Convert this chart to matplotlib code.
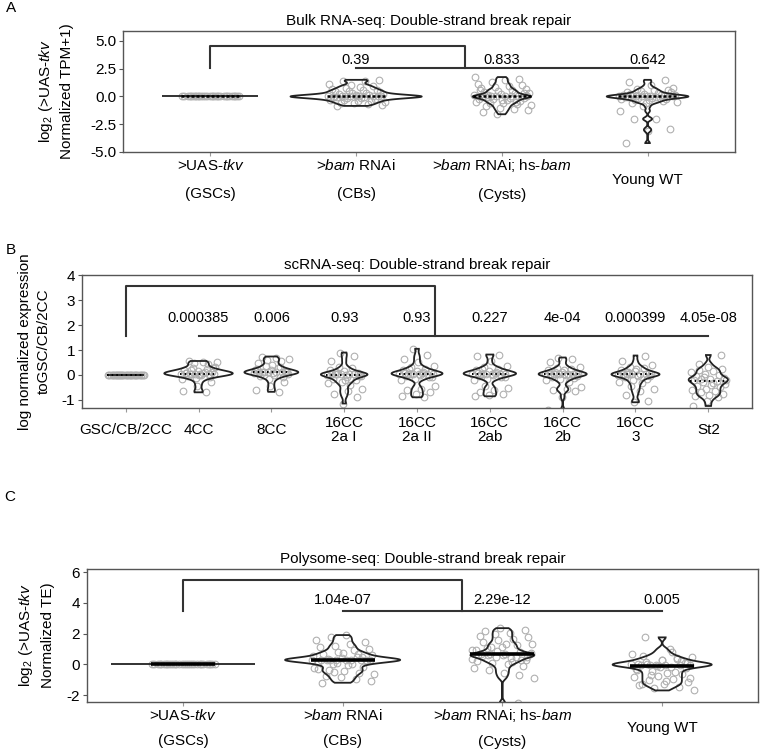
import numpy as np
import matplotlib.pyplot as plt

plt.rcParams['font.family'] = ['Liberation Sans', 'DejaVu Sans']
plt.rcParams['font.size'] = 11
plt.rcParams['mathtext.fontset'] = 'custom'
plt.rcParams['mathtext.rm'] = 'Liberation Sans'
plt.rcParams['mathtext.it'] = 'Liberation Sans:italic'
plt.rcParams['axes.unicode_minus'] = False

# ---- A: bulk RNA-seq (log2 normalised to >UAS-tkv) ----
bulk_labels = [r">UAS-$\mathit{tkv}$" + "\n(GSCs)",
               r">$\mathit{bam}$ RNAi" + "\n(CBs)",
               r">$\mathit{bam}$ RNAi; hs-$\mathit{bam}$" + "\n(Cysts)",
               "Young WT"]
bulk_gsc = [0.0, 0.0, 0.0, 0.0, 0.0, 0.0, 0.0, 0.0, 0.0, 0.0,
            0.0, 0.0, 0.0, 0.0, 0.0, 0.0, 0.0, 0.0, 0.0, 0.0,
            0.0, 0.0, 0.0, 0.0, 0.0, 0.0, 0.0, 0.0, 0.0, 0.0]
bulk_cb = [0.0, 0.0, 0.01, -0.01, 0.0, 0.0, 0.01, -0.01, 0.0, 0.0,
           0.1, -0.08, 0.15, -0.12, 0.2, -0.18, 0.25, -0.22, 0.3, -0.28, 0.35, -0.32,
           0.4, -0.38, 0.45, -0.42, 0.5, -0.48, 0.55, -0.55, 0.6, -0.62, 0.68, -0.7,
           0.75, -0.78, 0.82, -0.85, 0.9, 1.0, 1.1, 1.38, 1.42, 1.5, 0.05, -0.05]
bulk_cyst = [0.0, 0.0, 0.01, -0.01, 0.0, 0.0,
             0.1, -0.1, 0.15, -0.15, 0.2, -0.2, 0.28, -0.25, 0.35, -0.32, 0.42, -0.4,
             0.5, -0.48, 0.58, -0.55, 0.65, -0.62, 0.75, -0.7, 0.85, -0.8, 0.95, -0.9,
             1.05, -1.0, 1.15, -1.12, 1.3, -1.25, 1.45, -1.4, 1.6, -1.6, 1.75, 0.05,
             -0.05, 0.3, -0.3, 0.55, -0.5]
bulk_wt = [0.0, 0.0, 0.01, -0.01, 0.0, 0.0, 0.01, -0.01, 0.0, 0.0,
           0.06, -0.06, 0.1, -0.1, 0.15, -0.15, 0.2, -0.2, 0.25, -0.25, 0.3, -0.3,
           0.36, -0.36, 0.42, -0.42, 0.48, -0.48, 0.55, -0.55, 0.62, -0.6, 0.12, -0.12,
           0.7, 0.8, 1.0, 1.3, 1.5, -0.9, -1.3, -2.0, -2.05, -2.9, -3.1, -4.2]
bulk_p = ["0.39", "0.833", "0.642"]

# ---- B: scRNA-seq (log normalised to GSC/CB/2CC) ----
sc_labels = ["GSC/CB/2CC", "4CC", "8CC", "16CC\n2a I", "16CC\n2a II",
             "16CC\n2ab", "16CC\n2b", "16CC\n3", "St2"]
sc_gsc = [0.0, 0.0, 0.0, 0.0, 0.0, 0.0, 0.0, 0.0, 0.0, 0.0,
          0.0, 0.0, 0.0, 0.0, 0.0, 0.0, 0.0, 0.0, 0.0, 0.0,
          0.0, 0.0, 0.0, 0.0, 0.0, 0.0, 0.0, 0.0, 0.0, 0.0]
sc_4cc = [0.05, 0.05, 0.04, 0.06, 0.05, 0.05, 0.04, 0.06, 0.05,
          0.1, 0.14, 0.18, 0.22, 0.26, 0.3, 0.0, -0.04, -0.08, -0.12, -0.16, 0.12,
          0.2, 0.28, -0.02, 0.08, 0.42, 0.46, 0.5, 0.53, 0.56, -0.3, -0.45, -0.65, -0.7]
sc_8cc = [0.1, 0.1, 0.09, 0.11, 0.1, 0.1, 0.09, 0.11, 0.1,
          0.15, 0.2, 0.25, 0.3, 0.35, 0.05, 0.0, -0.05, -0.1, -0.15, 0.18, 0.28,
          -0.02, 0.12, 0.38, 0.48, 0.55, 0.6, 0.65, 0.7, 0.74, -0.3, -0.45, -0.6, -0.68]
sc_2a1 = [0.02, 0.02, 0.01, 0.03, 0.02, 0.02, 0.01, 0.03, 0.02,
          0.08, 0.14, 0.2, 0.26, 0.32, -0.04, -0.1, -0.16, -0.22, -0.28, -0.34, -0.4,
          0.1, -0.06, -0.2, 0.55, 0.75, 0.9, -0.55, -0.65, -0.75, -0.88, -1.15]
sc_2a2 = [0.05, 0.05, 0.04, 0.06, 0.05, 0.05, 0.04, 0.06, 0.05,
          0.1, 0.15, 0.2, 0.25, 0.3, 0.35, 0.0, -0.05, -0.1, -0.15, -0.2, 0.12, 0.22,
          -0.08, 0.5, 0.65, 0.8, 1.05, -0.45, -0.55, -0.62, -0.7, -0.78, -0.85, -0.9]
sc_2ab = [0.05, 0.05, 0.04, 0.06, 0.05, 0.05, 0.04, 0.06, 0.05,
          0.1, 0.15, 0.2, 0.25, 0.3, 0.35, 0.0, -0.05, -0.1, -0.15, -0.2, 0.12, 0.22,
          -0.08, 0.55, 0.78, 0.82, -0.45, -0.52, -0.6, -0.68, -0.76, -0.82, -0.86]
sc_2b = [0.03, 0.03, 0.02, 0.04, 0.03, 0.03, 0.02, 0.04, 0.03,
         0.08, 0.13, 0.18, 0.23, 0.28, 0.33, -0.02, -0.07, -0.12, -0.17, -0.22, -0.28,
         0.1, -0.05, 0.2, 0.5, 0.62, 0.7, -0.5, -0.55, -0.6, -0.65, -0.9, -1.4]
sc_3 = [0.02, 0.02, 0.01, 0.03, 0.02, 0.02, 0.01, 0.03, 0.02,
        0.08, 0.14, 0.2, 0.26, 0.32, 0.38, -0.04, -0.1, -0.16, -0.22, -0.28, -0.34,
        0.1, -0.06, 0.22, 0.55, 0.78, -0.45, -0.55, -0.65, -0.8, -1.05, -1.1]
sc_st2 = [-0.15, -0.14, -0.16,
          -0.05, 0.0, 0.05, 0.1, 0.15, 0.2, 0.25, 0.3, -0.2, -0.25, -0.3, -0.35, -0.4,
          -0.45, -0.5, -0.55, -0.6, -0.65, -0.7, -0.75, -0.8, -0.85, -0.9, -0.1,
          -0.22, -0.32, 0.45, 0.8, -1.05, -1.25]
sc_p = ["0.000385", "0.006", "0.93", "0.93", "0.227", "4e-04", "0.000399", "4.05e-08"]

# ---- C: Polysome-seq (log2 normalised TE) ----
poly_labels = bulk_labels
poly_gsc = [0.0, 0.0, 0.0, 0.0, 0.0, 0.0, 0.0, 0.0, 0.0, 0.0,
            0.0, 0.0, 0.0, 0.0, 0.0, 0.0, 0.0, 0.0, 0.0, 0.0,
            0.0, 0.0, 0.0, 0.0, 0.0, 0.0, 0.0, 0.0, 0.0, 0.0]
poly_cb = [0.28, 0.28, 0.27, 0.29, 0.28, 0.28, 0.27, 0.29, 0.28, 0.28,
           0.4, 0.15, 0.5, 0.05, 0.6, -0.05, 0.7, -0.15, 0.8, -0.25, 0.9, -0.35, 1.0,
           -0.45, 1.1, -0.55, 1.2, -0.65, 1.3, -0.75, 1.45, -0.85, 1.6, -0.95, 1.75,
           -1.1, 1.9, -1.2, 0.45, 0.1, 0.55, 0.0, 0.35, 0.2, 0.75, -0.3, 0.65, -0.5]
poly_cyst = [0.65, 0.65, 0.64, 0.66,
             0.8, 0.5, 0.95, 0.4, 1.05, 0.3, 1.15, 0.2, 1.25, 0.1, 1.35, 0.0, 1.45,
             -0.1, 1.55, -0.25, 1.65, -0.4, 1.75, -0.55, 1.85, -0.7, 1.95, -0.9, 2.05,
             2.15, 2.25, 2.35, 0.9, 0.45, 1.1, 0.75, 1.3, 0.55, 0.25, 0.85, 0.35, 0.15,
             0.62, 0.5, 0.6, 0.58, -2.5]
poly_wt = [-0.05, -0.05, -0.04, -0.06, -0.05, -0.05,
           0.05, -0.15, 0.15, -0.25, 0.25, -0.35, 0.35, -0.45, 0.45, -0.55, 0.55,
           -0.65, -0.75, -0.85, -0.95, -1.05, -1.15, -1.25, -1.35, -1.45, -1.55, -1.7,
           1.0, 1.75, 0.1, -0.2, -0.3, -0.5, -0.7, -0.9, -1.1, -1.3, 0.2,
           -0.1, 0.65, 0.8, 0.0, 0.08, 0.3, 0.02, 0.4]
poly_p = ["1.04e-07", "2.29e-12", "0.005"]


def violin(ax, x, vals, hw, bw):
    v = np.asarray(vals, dtype=float)
    if np.ptp(v) == 0:
        ax.hlines(v[0], x - hw, x + hw, color="#222222", lw=1.3, zorder=3)
        return
    ys = np.linspace(v.min(), v.max(), 600)
    d = np.exp(-0.5 * ((ys[:, None] - v[None, :]) / bw) ** 2).sum(axis=1)
    w = d / d.max() * hw
    px = np.r_[x - w, (x + w)[::-1]]
    py = np.r_[ys, ys[::-1]]
    ax.fill(px, py, facecolor="none", edgecolor="#222222", lw=1.3, zorder=3)


def panel(ax, groups, labels, hws, bw, jit, med_style, ylim, yticks, yfmt,
          title, ylabel, pvals, p_y, bracket, lab_pad, lab_ls, ylab_x):
    pos = np.arange(1, len(groups) + 1)
    for x, vals, hw in zip(pos, groups, hws):
        v = np.asarray(vals, dtype=float)
        offs = ((np.arange(len(v)) * 0.618034 + 0.31) % 1.0 - 0.5) * 2 * jit
        ax.plot(x + offs, v, "o", ms=4.8, mfc="none", mec="#b0b0b0", mew=0.8, zorder=2)
        violin(ax, x, v, hw, bw)
        ax.hlines(np.median(v), x - jit, x + jit, color="black", zorder=4, **med_style)
    top, low, drop = bracket
    kw = dict(color="#333333", lw=1.5, zorder=5)
    ax.plot([1, 1, drop, drop], [low, top, top, low], **kw)
    ax.plot([pos[1], pos[-1]], [low, low], **kw)
    for x, p in zip(pos[1:], pvals):
        ax.text(x, p_y, p, ha="center", va="center", fontsize=10.5)
    ax.set_xlim(0.4, len(groups) + 0.6)
    ax.set_ylim(*ylim)
    ax.set_yticks(yticks)
    ax.set_yticklabels([yfmt % t for t in yticks])
    ax.set_xticks(pos)
    ax.set_xticklabels(labels)
    for t in ax.get_xticklabels():
        t.set_verticalalignment("center")
        t.set_linespacing(lab_ls)
    ax.tick_params(axis="x", length=3, color="#999999", pad=lab_pad)
    ax.tick_params(axis="y", length=3, color="#555555", pad=2)
    for s in ax.spines.values():
        s.set_color("#555555")
        s.set_linewidth(1.0)
    ax.set_title(title, fontsize=11, pad=4)
    ax.set_ylabel(ylabel, linespacing=1.5)
    ax.yaxis.set_label_coords(ylab_x, 0.5)


fig = plt.figure(figsize=(7.6, 7.49), dpi=100)
axA = fig.add_axes([0.1618, 0.7971, 0.8053, 0.1615])
axB = fig.add_axes([0.1079, 0.4553, 0.8816, 0.1776])
axC = fig.add_axes([0.1145, 0.0628, 0.8829, 0.1776])

panel(axA, [bulk_gsc, bulk_cb, bulk_cyst, bulk_wt], bulk_labels,
      [0.33, 0.45, 0.2, 0.28], 0.15, 0.2, dict(lw=1.8, linestyles=(0, (1.2, 0.8))),
      (-5, 5.9), [-5, -2.5, 0, 2.5, 5], "%.1f",
      "Bulk RNA-seq: Double-strand break repair",
      r"log$_2$ (>UAS-$\mathit{tkv}$" + "\nNormalized TPM+1)",
      bulk_p, 3.3, (4.55, 2.57, 2.75), 17, 2.3, -0.08)

panel(axB, [sc_gsc, sc_4cc, sc_8cc, sc_2a1, sc_2a2, sc_2ab, sc_2b, sc_3, sc_st2],
      sc_labels, [0.25, 0.47, 0.37, 0.32, 0.35, 0.36, 0.33, 0.33, 0.27], 0.1, 0.25,
      dict(lw=1.4, linestyles=(0, (0.8, 1.6))),
      (-1.33, 4.02), [-1, 0, 1, 2, 3, 4], "%d",
      "scRNA-seq: Double-strand break repair",
      "log normalized expression\ntoGSC/CB/2CC",
      sc_p, 2.3, (3.56, 1.58, 5.25), 12.5, 1.0, -0.046)

panel(axC, [poly_gsc, poly_cb, poly_cyst, poly_wt], poly_labels,
      [0.45, 0.36, 0.2, 0.31], 0.15, 0.2, dict(lw=2.6, linestyles="solid"),
      (-2.45, 6.2), [-2, 0, 2, 4, 6], "%d",
      "Polysome-seq: Double-strand break repair",
      r"log$_2$ (>UAS-$\mathit{tkv}$" + "\nNormalized TE)",
      poly_p, 4.2, (5.48, 3.47, 2.75), 15.5, 2.0, -0.048)

fig.text(0.008, 1 - 8 / 749, "A", va="center", fontsize=11)
fig.text(0.008, 1 - 250 / 749, "B", va="center", fontsize=11)
fig.text(0.006, 1 - 497 / 749, "C", va="center", fontsize=11)

fig.savefig("out.png", dpi=100)
